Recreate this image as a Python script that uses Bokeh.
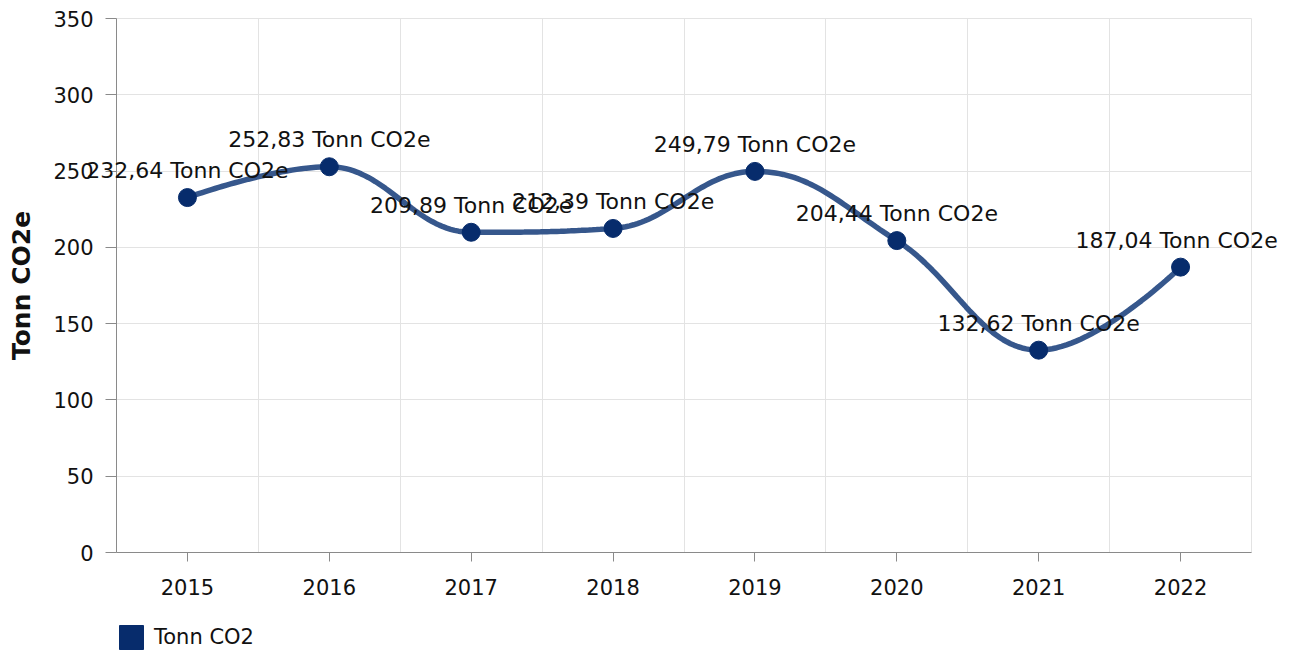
import numpy as np
from bokeh.plotting import figure
from bokeh.models import FixedTicker, Legend, LegendItem, Label
from bokeh.embed import file_html
from bokeh.resources import INLINE

years = ["2015", "2016", "2017", "2018", "2019", "2020", "2021", "2022"]
values = [232.64, 252.83, 209.89, 212.39, 249.79, 204.44, 132.62, 187.04]
series_name = "Tonn CO2"
unit = "Tonn CO2e"
y_ticks = [0, 50, 100, 150, 200, 250, 300, 350]

FONT = "DejaVu Sans"
LINE_COLOR = "#36578c"
MARK_COLOR = "#072c6c"

xs = list(range(len(years)))

# Highcharts-style spline through the data points
def spline_path(px, py, smoothing=1.5, denom=2.5, steps=40):
    n = len(px)
    lc = [None] * n
    rc = [None] * n
    for i in range(1, n - 1):
        x, y = px[i], py[i]
        lx, ly = px[i - 1], py[i - 1]
        nx, ny = px[i + 1], py[i + 1]
        lcx = (smoothing * x + lx) / denom
        lcy = (smoothing * y + ly) / denom
        rcx = (smoothing * x + nx) / denom
        rcy = (smoothing * y + ny) / denom
        if rcx != lcx:
            corr = ((rcy - lcy) * (rcx - x)) / (rcx - lcx) + y - rcy
            lcy += corr
            rcy += corr
        if lcy > ly and lcy > y:
            lcy = max(ly, y); rcy = 2 * y - lcy
        elif lcy < ly and lcy < y:
            lcy = min(ly, y); rcy = 2 * y - lcy
        if rcy > ny and rcy > y:
            rcy = max(ny, y); lcy = 2 * y - rcy
        elif rcy < ny and rcy < y:
            rcy = min(ny, y); lcy = 2 * y - rcy
        lc[i] = (lcx, lcy)
        rc[i] = (rcx, rcy)
    out_x, out_y = [px[0]], [py[0]]
    t = np.linspace(0, 1, steps)[1:]
    for i in range(1, n):
        p0 = (px[i - 1], py[i - 1])
        p1 = rc[i - 1] if rc[i - 1] else p0
        p3 = (px[i], py[i])
        p2 = lc[i] if lc[i] else p3
        bx = (1 - t) ** 3 * p0[0] + 3 * (1 - t) ** 2 * t * p1[0] + 3 * (1 - t) * t ** 2 * p2[0] + t ** 3 * p3[0]
        by = (1 - t) ** 3 * p0[1] + 3 * (1 - t) ** 2 * t * p1[1] + 3 * (1 - t) * t ** 2 * p2[1] + t ** 3 * p3[1]
        out_x.extend(bx.tolist())
        out_y.extend(by.tolist())
    return out_x, out_y

# layout (pixels): plotting area inside a full-canvas frame
W, H = 1279, 652
PL, PR, PT, PB = 116, 1251, 18, 552
X0, X1 = -0.5, len(years) - 0.5
Y0, Y1 = 0, 350
kx = (X1 - X0) / (PR - PL)
ky = (Y1 - Y0) / (PB - PT)
x_range = (X0 - PL * kx, X1 + (W - PR) * kx)
y_range = (Y0 - (H - PB) * ky, Y1 + PT * ky)

p = figure(width=W, height=H, x_range=x_range, y_range=y_range,
           output_backend="svg", toolbar_location=None,
           min_border_left=0, min_border_right=0, min_border_top=0, min_border_bottom=0)

sx, sy = spline_path(xs, values)
p.line(sx, sy, line_color=LINE_COLOR, line_width=5.5)
p.scatter(xs, values, size=18, fill_color=MARK_COLOR, line_color=MARK_COLOR)

for i, (xi, v) in enumerate(zip(xs, values)):
    txt = f"{v:.2f}".replace(".", ",") + " " + unit
    p.add_layout(Label(x=xi, y=v, text=txt, text_align="center", text_baseline="alphabetic",
                       y_offset=27, x_offset=(-4 if i == len(xs) - 1 else 0),
                       text_font=FONT, text_font_size="22px", text_color="#111111"))

# axes
p.xaxis.fixed_location = Y0
p.yaxis.fixed_location = X0
p.xaxis.bounds = (X0, X1)
p.yaxis.bounds = (Y0, Y1)
p.xaxis.ticker = FixedTicker(ticks=xs)
p.xaxis.major_label_overrides = {i: y for i, y in enumerate(years)}
p.yaxis.ticker = FixedTicker(ticks=y_ticks)
for ax in (p.xaxis[0], p.yaxis[0]):
    ax.major_label_text_font = FONT
    ax.major_label_text_font_size = "21px"
    ax.major_label_text_color = "#111111"
    ax.axis_line_color = "#8a8a8a"
    ax.major_tick_line_color = "#8a8a8a"
    ax.minor_tick_line_color = None
    ax.major_tick_in = 0
p.xaxis.major_tick_out = 9
p.yaxis.major_tick_out = 11
p.xaxis.major_label_standoff = 17
p.yaxis.major_label_standoff = 12
p.yaxis.axis_label = unit
p.yaxis.axis_label_text_font = FONT
p.yaxis.axis_label_text_font_size = "25px"
p.yaxis.axis_label_text_font_style = "bold"
p.yaxis.axis_label_text_color = "#111111"
p.yaxis.axis_label_standoff = 14

p.xgrid.ticker = FixedTicker(ticks=[i + 0.5 for i in xs])
p.xgrid.cross_bounds = (Y0, Y1)
p.ygrid.ticker = FixedTicker(ticks=y_ticks)
p.ygrid.cross_bounds = (X0, X1)
p.xgrid.grid_line_color = "#e3e3e3"
p.ygrid.grid_line_color = "#e3e3e3"
p.outline_line_color = None
p.background_fill_color = "white"
p.border_fill_color = "white"

# legend
dummy = p.quad(left=[-10], right=[-9], top=[-10], bottom=[-11], fill_color=MARK_COLOR, line_color=MARK_COLOR)
legend = Legend(items=[LegendItem(label=series_name, renderers=[dummy])],
                glyph_width=30, glyph_height=30, label_text_font=FONT, label_text_font_size="21px",
                label_text_color="#111111", border_line_color=None, background_fill_alpha=0,
                padding=0, margin=0, spacing=0, label_standoff=8, label_height=30,
                location=(PL, 0))
p.add_layout(legend)

open("out.html", "w").write(file_html(p, INLINE))
